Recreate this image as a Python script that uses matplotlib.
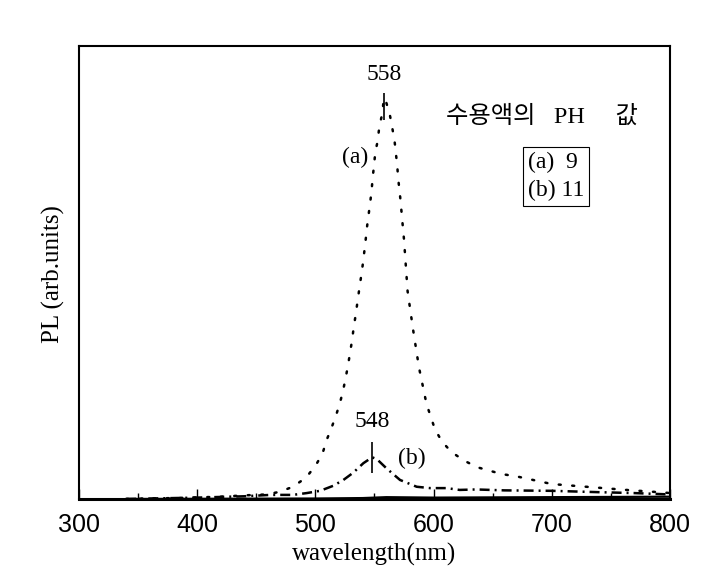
import numpy as np
import matplotlib
matplotlib.use("Agg")
import matplotlib.pyplot as plt

# curve (a): pH 9, dotted
wl_a = [340, 380, 420, 440, 459, 470, 481, 492, 500, 506, 509.5, 513.5, 517.4,
        520.8, 523.4, 525.6, 527.6, 529.3, 531, 532.4, 534, 535.5, 537, 538.5,
        540, 541.3, 542.5, 543.6, 545, 546.4, 547.6, 548.5, 549.6, 550.7, 552.7,
        554, 556.5, 558, 560, 563, 565, 567, 568, 569.3, 570, 572, 573.5, 575,
        578, 582.6, 587.6, 594, 601, 607, 615, 625.6, 637, 657.6, 670, 700, 729,
        763, 796, 800]
pl_a = [0.0, 0.002, 0.005, 0.008, 0.010, 0.016, 0.027, 0.047, 0.073, 0.10, 0.13,
        0.156, 0.184, 0.212, 0.239, 0.267, 0.295, 0.322, 0.35, 0.378, 0.405,
        0.433, 0.461, 0.488, 0.516, 0.544, 0.571, 0.599, 0.627, 0.655, 0.682,
        0.71, 0.736, 0.766, 0.79, 0.82, 0.85, 0.885, 0.875, 0.848, 0.82, 0.79,
        0.766, 0.734, 0.709, 0.66, 0.615, 0.572, 0.459, 0.375, 0.291, 0.21,
        0.155, 0.127, 0.104, 0.085, 0.07, 0.055, 0.05, 0.033, 0.027, 0.02,
        0.014, 0.013]

# curve (b): pH 11, dash-dot
wl_b = [340, 400, 440, 462, 481, 492.6, 504, 515, 523.7, 532, 540.6, 548, 552,
        560, 571.6, 585.7, 597, 611, 622, 636, 660, 700, 740, 770, 800]
pl_b = [0.0, 0.003, 0.006, 0.009, 0.009, 0.013, 0.018, 0.029, 0.042, 0.058,
        0.079, 0.092, 0.088, 0.068, 0.042, 0.027, 0.024, 0.024, 0.02, 0.021,
        0.019, 0.018, 0.015, 0.013, 0.01]

# nearly flat solid trace along the bottom
wl_c = [340, 500, 540, 560, 600, 700, 800]
pl_c = [0.0, 0.001, 0.002, 0.004, 0.003, 0.004, 0.005]

peaks = [558, 548]
peak_labels = ["558", "548"]

serif = ["Liberation Serif", "Noto Sans CJK KR"]

fig = plt.figure(figsize=(7.15, 5.88), dpi=100)
ax = fig.add_axes([0.1105, 0.1514, 0.8265, 0.7704])

ax.plot(wl_a, pl_a, color="black", lw=1.8, dashes=(0.8, 4.6),
        dash_capstyle="round")
ax.plot(wl_b, pl_b, color="black", lw=1.8, dashes=(4, 2, 0.8, 2))
ax.plot(wl_c, pl_c, color="black", lw=1.6)

# peak markers
ax.vlines(peaks[0], 0.837, 0.896, color="black", lw=1.2)
ax.vlines(peaks[1], 0.057, 0.126, color="black", lw=1.2)
ax.text(peaks[0], 0.936, peak_labels[0], ha="center", va="center",
        fontsize=17, family=serif)
ax.text(peaks[1] + 0.5, 0.17, peak_labels[1], ha="center", va="center",
        fontsize=17, family=serif)
ax.text(533.5, 0.753, "(a)", ha="center", va="center", fontsize=17, family=serif)
ax.text(581.7, 0.09, "(b)", ha="center", va="center", fontsize=17, family=serif)

ax.text(692, 0.843, "수용액의   PH     값", ha="center", va="center",
        fontsize=17.5, family=serif)
ax.text(679.5, 0.712, "(a)  9\n(b) 11", ha="left", va="center", fontsize=17,
        family=serif, linespacing=1.45,
        bbox=dict(boxstyle="square,pad=0.2", fc="white", ec="black", lw=0.8))

ax.set_xlim(300, 800)
ax.set_ylim(0, 1.0)
ax.set_xticks([300, 400, 500, 600, 700, 800])
ax.set_xticks([350, 450, 550, 650, 750], minor=True)
ax.set_yticks([])
ax.tick_params(axis="x", which="major", direction="in", length=7, width=1,
               labelsize=18, pad=10)
ax.tick_params(axis="x", which="minor", direction="in", length=4, width=1)
for lbl in ax.get_xticklabels():
    lbl.set_family("Liberation Sans")
for s in ax.spines.values():
    s.set_linewidth(1.5)
ax.spines["bottom"].set_linewidth(2.2)

ax.set_xlabel("wavelength(nm)", fontsize=18, family=serif, labelpad=4)
ax.set_ylabel("PL (arb.units)", fontsize=18, family=serif)
ax.yaxis.set_label_coords(-0.024, 0.497)

fig.savefig("out.png", dpi=100)
